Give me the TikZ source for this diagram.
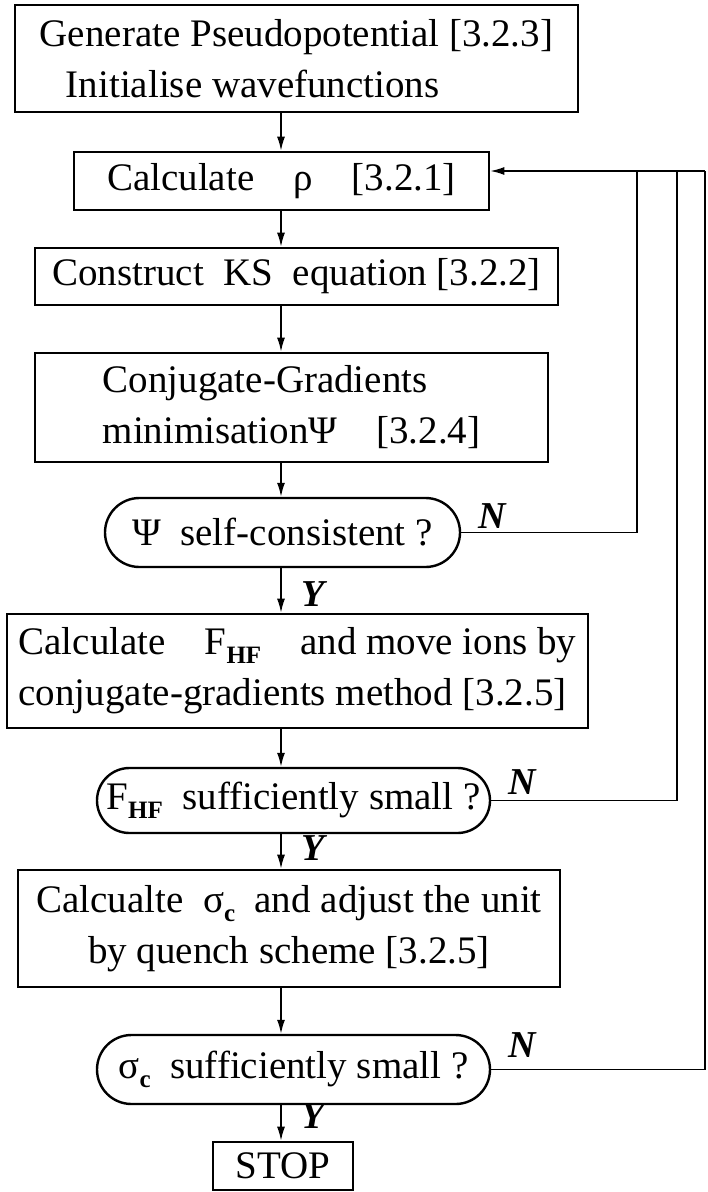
\documentclass[tikz,border=0pt]{standalone}
\usepackage{fontspec}
\setmainfont{Liberation Serif}
\usetikzlibrary{arrows.meta, positioning, shapes.misc}

\newcommand{\subbf}[1]{\raisebox{-0.5ex}{\fontsize{12.5}{12.5}\selectfont\bfseries #1}}

\begin{document}
\begin{tikzpicture}[
            x=0.5pt, y=-0.5pt,
            procbox/.style={draw, line width=1.3pt, inner sep=0pt, font=\fontsize{19.5}{25.5}\selectfont},
            testnode/.style={draw, rounded rectangle, line width=1.2pt, inner sep=0pt, font=\fontsize{19.5}{25.5}\selectfont},
            arrow/.style={-{Latex[length=7pt,width=4pt]}, line width=0.8pt},
            link/.style={line width=0.8pt},
            lbl/.style={font=\fontsize{19}{19}\selectfont\bfseries\itshape, inner sep=0pt}
        ]
        \useasboundingbox (0,0) rectangle (707,1192);

        % --- main chain ---
        \node[procbox, minimum width=281.5pt, minimum height=53.5pt, align=left] (gen) at (296.5,58.5)
            {Generate Pseudopotential [3.2.3]\\\hspace{13pt}Initialise wavefunctions};
        \node[procbox, minimum width=207.5pt, minimum height=29pt] (rho) at (281.5,181)
            {Calculate\quad ρ\quad [3.2.1]};
        \node[procbox, minimum width=261.5pt, minimum height=28.5pt] (ks) at (296.5,276.5)
            {Construct\ \ KS\ \ equation [3.2.2]};
        \node[procbox, minimum width=256.5pt, minimum height=54.5pt, align=left] (cg) at (291.5,407.5)
            {Conjugate-Gradients\\minimisationΨ\quad[3.2.4]};
        \node[testnode, minimum width=177.5pt, minimum height=34.5pt] (selfc) at (282.5,532.5)
            {Ψ\ \ self-consistent ?};
        \node[procbox, minimum width=290.5pt, minimum height=57pt, align=left] (force) at (297.5,671)
            {Calculate\quad F\subbf{HF}\quad and move ions by\\conjugate-gradients method [3.2.5]};
        \node[testnode, minimum width=196.5pt, minimum height=32.5pt] (fsmall) at (293.5,800.5)
            {F\subbf{HF}\ \ sufficiently small ?};
        \node[procbox, minimum width=271pt, minimum height=58.5pt, align=center] (quench) at (289,928.5)
            {Calcualte\ \ σ\subbf{c}\ \ and adjust the unit\\by quench scheme [3.2.5]};
        \node[testnode, minimum width=196.5pt, minimum height=34.5pt] (ssmall) at (293.5,1069.5)
            {σ\subbf{c}\ \ sufficiently small ?};
        \node[procbox, minimum width=70pt, minimum height=24pt] (stop) at (283,1166) {STOP};

        % --- downward arrows ---
        \coordinate (ax) at (281,0);
        \draw[arrow] (gen.south -| ax) -- (rho.north -| ax);
        \draw[arrow] (rho.south -| ax) -- (ks.north -| ax);
        \draw[arrow] (ks.south -| ax) -- (cg.north -| ax);
        \draw[arrow] (cg.south -| ax) -- (selfc.north -| ax);
        \draw[arrow] (selfc.south -| ax) -- (force.north -| ax);
        \draw[arrow] (force.south -| ax) -- (fsmall.north -| ax);
        \draw[arrow] (fsmall.south -| ax) -- (quench.north -| ax);
        \draw[arrow] (quench.south -| ax) -- (ssmall.north -| ax);
        \draw[arrow] (ssmall.south -| ax) -- (stop.north -| ax);

        % --- feedback loops ---
        \coordinate (l1) at (637,171);
        \coordinate (l2) at (677,171);
        \coordinate (l3) at (705,171);
        \draw[link] (selfc.east) -| (l1);
        \draw[link] (fsmall.east) -| (l2);
        \draw[link] (ssmall.east) -| (l3);
        \draw[arrow] (l3) -- (rho.east |- l3);

        % --- labels ---
        \node[lbl] (n1) at (492,516) {N};
        \node[lbl] (n2) at (522,782) {N};
        \node[lbl] (n3) at (522,1045) {N};
        \node[lbl] (y1) at (313,594) {Y};
        \node[lbl] (y2) at (313,848) {Y};
        \node[lbl] (y3) at (313,1116) {Y};

        \end{tikzpicture}
\end{document}
